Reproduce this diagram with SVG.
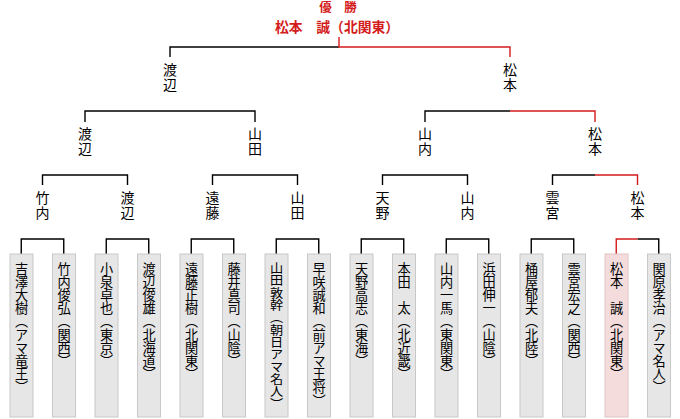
<svg xmlns="http://www.w3.org/2000/svg" width="680" height="419" viewBox="0 0 680 419">
<style>
text{font-family:"Noto Sans CJK JP","Noto Sans CJK SC",sans-serif;fill:#000}
.t{fill:#d41c1c;font-weight:bold;text-anchor:middle}
.lb{font-size:14px;writing-mode:vertical-rl;letter-spacing:1px}
.bx{fill:#e6e6e6;stroke:#c8c8c8;stroke-width:1}
.hl{fill:#f5dcdc;stroke:#e0c4c4;stroke-width:1}
.v{font-size:13.2px;writing-mode:vertical-rl}
.k{fill:none;stroke:#000;stroke-width:1.4}
.r{fill:none;stroke:#d41c1c;stroke-width:1.4}
</style>
<rect width="680" height="419" fill="#fff"/>
<g id="title">
<text class="t" x="338" y="12" font-size="12.5">優　勝</text>
<text class="t" x="337" y="31.5" font-size="13.8">松本　誠（北関東）</text>
</g>
<g id="connectors">
<path class="k" d="M170 57V47H339"/>
<path class="r" d="M339 37V47H510V57"/>
<path class="k" d="M85 122V111H255V122"/>
<path class="k" d="M425 122V111H510"/>
<path class="r" d="M510 111H595V122"/>
<path class="k" d="M42.5 185V175H127.5V185M212.5 185V175H297.5V185M382.5 185V175H467.5V185M552.5 185V175H595"/>
<path class="r" d="M595 175H637.5V185"/>
<path class="k" d="M21.25 254V239H63.75V254M106.25 254V239H148.75V254M191.25 254V239H233.75V254M276.25 254V239H318.75V254M361.25 254V239H403.75V254M446.25 254V239H488.75V254M531.25 254V239H573.75V254M637.5 239H658.75V254"/>
<path class="r" d="M616.25 254V239H637.5"/>
</g>
<g id="round1">
<g id="n-r1-watanabe"><text class="lb" x="170" y="63">渡辺</text></g>
<g id="n-r1-matsumoto"><text class="lb" x="510" y="63">松本</text></g>
</g>
<g id="round2">
<g id="n-r2-watanabe"><text class="lb" x="85" y="127">渡辺</text></g>
<g id="n-r2-yamada"><text class="lb" x="255" y="127">山田</text></g>
<g id="n-r2-yamauchi"><text class="lb" x="425" y="127">山内</text></g>
<g id="n-r2-matsumoto"><text class="lb" x="595" y="127">松本</text></g>
</g>
<g id="round3">
<g id="n-r3-takeuchi"><text class="lb" x="42.5" y="191">竹内</text></g>
<g id="n-r3-watanabe"><text class="lb" x="127.5" y="191">渡辺</text></g>
<g id="n-r3-endo"><text class="lb" x="212.5" y="191">遠藤</text></g>
<g id="n-r3-yamada"><text class="lb" x="297.5" y="191">山田</text></g>
<g id="n-r3-amano"><text class="lb" x="382.5" y="191">天野</text></g>
<g id="n-r3-yamauchi"><text class="lb" x="467.5" y="191">山内</text></g>
<g id="n-r3-unomiya"><text class="lb" x="552.5" y="191">雲宮</text></g>
<g id="n-r3-matsumoto"><text class="lb" x="637.5" y="191">松本</text></g>
</g>
<g id="players">
<g id="p1"><rect class="bx" x="10" y="254" width="23" height="163"/><text class="v" x="21.5" y="262">吉澤大樹（アマ竜王）</text></g>
<g id="p2"><rect class="bx" x="52.5" y="254" width="23" height="163"/><text class="v" x="64" y="262">竹内俊弘（関西）</text></g>
<g id="p3"><rect class="bx" x="95" y="254" width="23" height="163"/><text class="v" x="106.5" y="262">小泉卓也（東京）</text></g>
<g id="p4"><rect class="bx" x="137.5" y="254" width="23" height="163"/><text class="v" x="149" y="262">渡辺俊雄（北海道）</text></g>
<g id="p5"><rect class="bx" x="180" y="254" width="23" height="163"/><text class="v" x="191.5" y="262">遠藤正樹（北関東）</text></g>
<g id="p6"><rect class="bx" x="222.5" y="254" width="23" height="163"/><text class="v" x="234" y="262">藤井真司（山陰）</text></g>
<g id="p7"><rect class="bx" x="265" y="254" width="23" height="163"/><text class="v" x="276.5" y="262" textLength="148" lengthAdjust="spacingAndGlyphs">山田敦幹（朝日アマ名人）</text></g>
<g id="p8"><rect class="bx" x="307.5" y="254" width="23" height="163"/><text class="v" x="319" y="262">早咲誠和（前アマ王将）</text></g>
<g id="p9"><rect class="bx" x="350" y="254" width="23" height="163"/><text class="v" x="361.5" y="262">天野高志（東海）</text></g>
<g id="p10"><rect class="bx" x="392.5" y="254" width="23" height="163"/><text class="v" x="404" y="262">本田　太（北近畿）</text></g>
<g id="p11"><rect class="bx" x="435" y="254" width="23" height="163"/><text class="v" x="446.5" y="262">山内一馬（東関東）</text></g>
<g id="p12"><rect class="bx" x="477.5" y="254" width="23" height="163"/><text class="v" x="489" y="262">浜田伸一（山陰）</text></g>
<g id="p13"><rect class="bx" x="520" y="254" width="23" height="163"/><text class="v" x="531.5" y="262">桶屋郁夫（北陸）</text></g>
<g id="p14"><rect class="bx" x="562.5" y="254" width="23" height="163"/><text class="v" x="574" y="262">雲宮宏之（関西）</text></g>
<g id="p15"><rect class="hl" x="605" y="254" width="23" height="163"/><text class="v" x="616.5" y="262">松本　誠（北関東）</text></g>
<g id="p16"><rect class="bx" x="647.5" y="254" width="23" height="163"/><text class="v" x="659" y="262">関原孝治（アマ名人）</text></g>
</g>
</svg>
